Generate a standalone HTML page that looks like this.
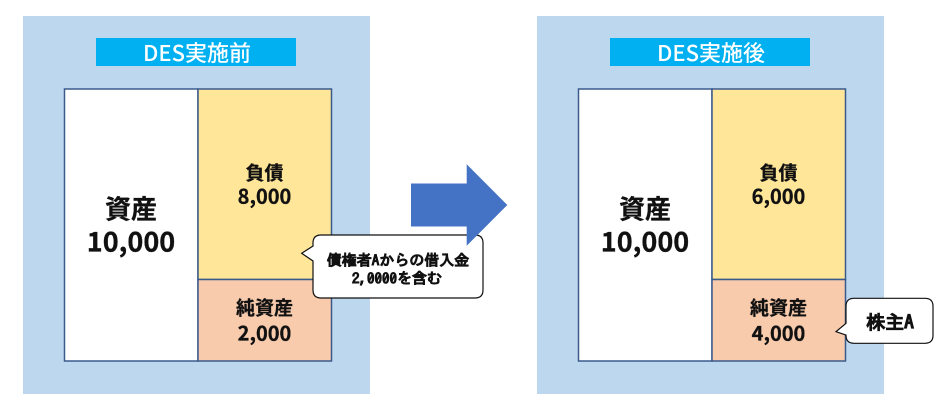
<!DOCTYPE html>
<html>
<head>
<meta charset="utf-8">
<style>
  html, body { margin:0; padding:0; background:#ffffff; }
  body { width:942px; height:404px; overflow:hidden; }
  svg { display:block; }
  .j { font-family: "Noto Sans CJK JP", "Liberation Sans", sans-serif; }
  .m { font-family: "IPAGothic", "Noto Sans CJK JP", monospace; }
</style>
</head>
<body>
<svg width="942" height="404" viewBox="0 0 942 404" xmlns="http://www.w3.org/2000/svg">
  <!-- Left panel -->
  <rect x="23" y="16" width="347" height="378" fill="#BDD7EE"/>
  <rect x="96" y="38" width="200" height="28" fill="#00B0F0"/>
  <text x="197" y="52" class="j" font-size="22" font-weight="500" fill="#ffffff" text-anchor="middle" dominant-baseline="central">DES実施前</text>

  <rect x="64.5" y="89" width="133.5" height="272" fill="#ffffff" stroke="#3A5A8C" stroke-width="1.5"/>
  <rect x="198" y="89" width="133.5" height="190.5" fill="#FFE699" stroke="#3A5A8C" stroke-width="1.5"/>
  <rect x="198" y="279.5" width="133.5" height="81.5" fill="#F8CBAD" stroke="#3A5A8C" stroke-width="1.5"/>

  <g class="j" font-weight="700" fill="#111" stroke="#111" stroke-width="0.3" text-anchor="middle" dominant-baseline="central">
    <text x="131" y="208" font-size="26" dominant-baseline="central">資産</text>
    <text x="131" y="240" font-size="27" dominant-baseline="central">10,000</text>
    <text x="264.5" y="172" font-size="19" dominant-baseline="central">負債</text>
    <text x="264.5" y="195" font-size="20" dominant-baseline="central">8,000</text>
    <text x="264.5" y="307" font-size="19" dominant-baseline="central">純資産</text>
    <text x="264.5" y="332" font-size="20" dominant-baseline="central">2,000</text>
  </g>

  <!-- Callout 1 -->
  <path d="M321,235 H475 Q483,235 483,243 V290 Q483,298 475,298 H321 Q313,298 313,290 V261 L301.7,253.3 L313,246 V243 Q313,235 321,235 Z" fill="#ffffff" stroke="#111" stroke-width="1.2"/>
  <g class="m" font-size="15" font-weight="700" fill="#111" stroke="#111" stroke-width="0.5" text-anchor="middle">
    <text x="398" y="260" dominant-baseline="central">債権者Aからの借入金</text>
    <text x="397" y="278" dominant-baseline="central">2,0000を含む</text>
  </g>

  <!-- Arrow -->
  <polygon points="411,183.5 466.7,183.5 466.7,164.3 507.3,205 466.7,245.7 466.7,226.5 411,226.5" fill="#4472C4"/>

  <!-- Right panel -->
  <rect x="537" y="16" width="347" height="378" fill="#BDD7EE"/>
  <rect x="610" y="38" width="200" height="28" fill="#00B0F0"/>
  <text x="711" y="52" class="j" font-size="22" font-weight="500" fill="#ffffff" text-anchor="middle" dominant-baseline="central">DES実施後</text>

  <rect x="578.5" y="89" width="133.5" height="272" fill="#ffffff" stroke="#3A5A8C" stroke-width="1.5"/>
  <rect x="712" y="89" width="133.5" height="190.5" fill="#FFE699" stroke="#3A5A8C" stroke-width="1.5"/>
  <rect x="712" y="279.5" width="133.5" height="81.5" fill="#F8CBAD" stroke="#3A5A8C" stroke-width="1.5"/>

  <g class="j" font-weight="700" fill="#111" stroke="#111" stroke-width="0.3" text-anchor="middle">
    <text x="645" y="208" font-size="26" dominant-baseline="central">資産</text>
    <text x="645" y="240" font-size="27" dominant-baseline="central">10,000</text>
    <text x="778.5" y="172" font-size="19" dominant-baseline="central">負債</text>
    <text x="778.5" y="195" font-size="20" dominant-baseline="central">6,000</text>
    <text x="778.5" y="307" font-size="19" dominant-baseline="central">純資産</text>
    <text x="778.5" y="332" font-size="20" dominant-baseline="central">4,000</text>
  </g>

  <!-- Callout 2 -->
  <path d="M854,298.3 H925 Q933,298.3 933,306.3 V335.3 Q933,343.3 925,343.3 H854 Q846,343.3 846,335.3 V335 L836,331.7 L846,323.3 V306.3 Q846,298.3 854,298.3 Z" fill="#ffffff" stroke="#111" stroke-width="1.2"/>
  <text x="890" y="322.5" class="m" font-size="19" font-weight="700" fill="#111" stroke="#111" stroke-width="0.6" text-anchor="middle" dominant-baseline="central">株主A</text>
</svg>
</body>
</html>
